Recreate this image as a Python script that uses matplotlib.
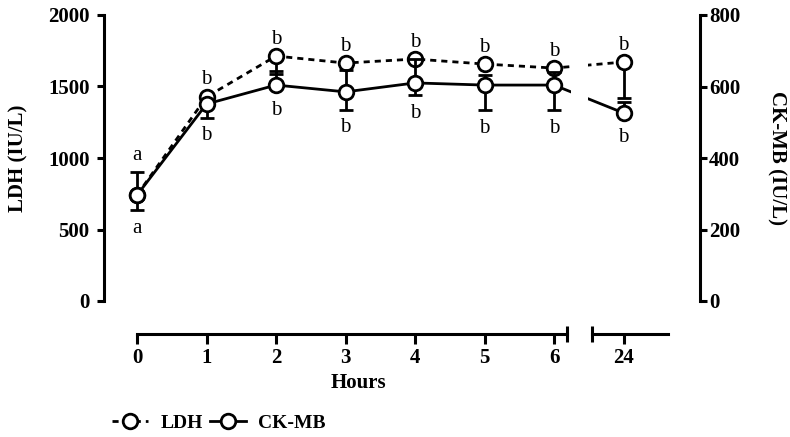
import numpy as np
import matplotlib
matplotlib.use('Agg')
import matplotlib.pyplot as plt

plt.rcParams['font.family'] = ['Liberation Serif', 'DejaVu Serif']

# ---------------- data ----------------
hour_labels = ['0', '1', '2', '3', '4', '5', '6', '24']
ldh = [741, 1427, 1713, 1664, 1692, 1657, 1629, 1671]
ldh_err_low = [0, 0, 126, 0, 0, 0, 0, 252]
ldh_err_up = [161, 0, 0, 0, 0, 0, 0, 0]
ckmb = [296, 551, 604, 585, 610, 604, 604, 526]
ckmb_err_low = [42, 39, 0, 50, 34, 70, 70, 0]
ckmb_err_up = [0, 0, 39, 61, 67, 28, 36, 31]
top_letters = ['a', 'b', 'b', 'b', 'b', 'b', 'b', 'b']
bottom_letters = ['a', 'b', 'b', 'b', 'b', 'b', 'b', 'b']
series_names = ['LDH', 'CK-MB']

pos = np.arange(len(hour_labels))  # broken-axis positions (24 h placed after 6 h)

# ---------------- layout (pixels) ----------------
W, H = 790, 437
fig = plt.figure(figsize=(W / 100, H / 100), dpi=100)
x0_px, step_px = 137, 69.5
def px2pos(px):
    return (px - x0_px) / step_px

y_top, y_bot = 15, 301
l1, r1 = 104, 571
l2, r2 = 588, 700
ax1 = fig.add_axes([l1 / W, 1 - y_bot / H, (r1 - l1) / W, (y_bot - y_top) / H])
ax2 = fig.add_axes([l2 / W, 1 - y_bot / H, (r2 - l2) / W, (y_bot - y_top) / H])
for a in (ax1, ax2):
    a.patch.set_visible(False)
ax1.set_xlim(px2pos(l1), px2pos(r1))
ax2.set_xlim(px2pos(l2), px2pos(r2))
ax1b = ax1.twinx()
ax2b = ax2.twinx()

LW = 2.0
fs = 15
fs_letter = 15
handles = []

for a, b in ((ax1, ax1b), (ax2, ax2b)):
    a.set_ylim(0, 2000)
    b.set_ylim(0, 800)
    a.errorbar(pos, ldh, yerr=[ldh_err_low, ldh_err_up], fmt='none', ecolor='black',
               elinewidth=LW, capsize=5, capthick=LW, zorder=2)
    l_ldh, = a.plot(pos, ldh, ls=(0, (2.2, 1.8)), lw=LW, color='black', marker='o', ms=10.5,
                    mfc='white', mec='black', mew=LW, zorder=3)
    b.errorbar(pos, ckmb, yerr=[ckmb_err_low, ckmb_err_up], fmt='none', ecolor='black',
               elinewidth=LW, capsize=5, capthick=LW, zorder=2)
    l_ck, = b.plot(pos, ckmb, ls='-', lw=LW, color='black', marker='o', ms=10.5,
                   mfc='white', mec='black', mew=LW, zorder=3)
    if not handles:
        handles = [l_ldh, l_ck]
    for i in range(len(pos)):
        a.annotate(top_letters[i], (pos[i], ldh[i] + ldh_err_up[i]), xytext=(0, 17),
                   textcoords='offset pixels', ha='center', va='center', fontsize=fs_letter)
        off = -18 if ckmb_err_low[i] > 0 else -25
        b.annotate(bottom_letters[i], (pos[i], ckmb[i] - ckmb_err_low[i]), xytext=(0, off),
                   textcoords='offset pixels', ha='center', va='center', fontsize=fs_letter)

# ---------------- spines & ticks ----------------
off_pt = 33 * 0.72
for a in (ax1, ax2, ax1b, ax2b):
    for s in a.spines.values():
        s.set_visible(False)
        s.set_linewidth(2.2)
    a.tick_params(width=2.2, labelsize=fs)

ax1.spines['left'].set_visible(True)
ax1.spines['bottom'].set_visible(True)
ax1.spines['bottom'].set_position(('outward', off_pt))
ax1.spines['bottom'].set_bounds(0, px2pos(567))
ax1.set_yticks([0, 500, 1000, 1500, 2000])
ax1.set_xticks(pos[:7])
ax1.set_xticklabels(hour_labels[:7])
ax1.set_xticks([px2pos(567)], minor=True)

ax2.spines['bottom'].set_visible(True)
ax2.spines['bottom'].set_position(('outward', off_pt))
ax2.spines['bottom'].set_bounds(px2pos(592), px2pos(668))
ax2.set_xticks(pos[7:])
ax2.set_xticklabels(hour_labels[7:])
ax2.set_xticks([px2pos(592)], minor=True)
ax2.tick_params(axis='y', left=False, labelleft=False)

ax1b.tick_params(axis='y', right=False, labelright=False)
ax2b.spines['right'].set_visible(True)
ax2b.set_yticks([0, 200, 400, 600, 800])

for a in (ax1, ax2):
    a.tick_params(axis='x', which='major', direction='out', length=7, pad=3)
    a.tick_params(axis='x', which='minor', direction='inout', length=11, width=2.2)
ax1.tick_params(axis='y', direction='out', length=5, pad=5.5)
ax2b.tick_params(axis='y', direction='out', length=5, pad=1.5)
for a in (ax1, ax2, ax2b):
    for t in a.get_xticklabels() + a.get_yticklabels():
        t.set_fontweight('bold')

ax1.set_ylabel('LDH (IU/L)', fontsize=fs, fontweight='bold', va='center')
ax1.yaxis.set_label_coords((18 - l1) / (r1 - l1), 0.5)
ax2b.set_ylabel('CK-MB (IU/L)', fontsize=fs, fontweight='bold', rotation=270, va='center')
ax2b.yaxis.set_label_coords((777 - l2) / (r2 - l2), 0.5)

fig.text(358 / W, 1 - 383 / H, 'Hours', ha='center', va='center', fontsize=fs, fontweight='bold')

fig.legend(handles=handles, labels=series_names, loc='center left',
           bbox_to_anchor=(112 / W, 1 - 423 / H), ncol=2, frameon=False,
           borderpad=0, borderaxespad=0,
           handlelength=1.85, columnspacing=0.35, handletextpad=0.65,
           prop={'weight': 'bold', 'size': 14})

fig.savefig('out.png', dpi=100)
